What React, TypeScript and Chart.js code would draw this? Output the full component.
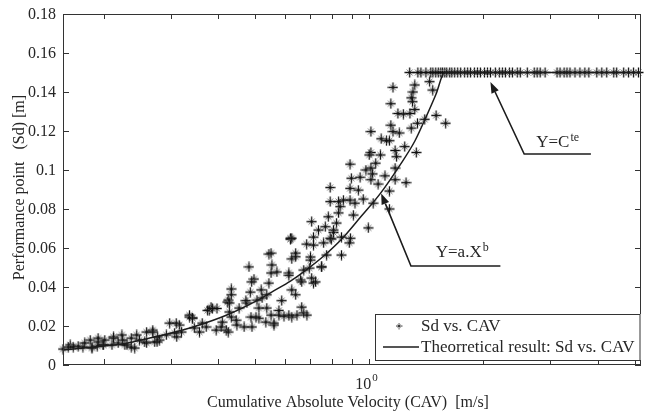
import React, { useEffect, useRef } from "react";
import { Chart, registerables } from "chart.js";

Chart.register(...registerables);

// ---------------- data ----------------
// Lower dense band of the scatter (CAV [m/s], Sd [m])
const lowerBand: [number, number][] = [
  [0.156, 0.0082], [0.163, 0.0103], [0.166, 0.0092], [0.171, 0.0097], [0.176, 0.0092],
  [0.184, 0.0128], [0.186, 0.0092], [0.192, 0.0097], [0.193, 0.0138], [0.199, 0.0103],
  [0.201, 0.0128], [0.210, 0.0103], [0.212, 0.0144], [0.218, 0.0113], [0.223, 0.0154],
  [0.227, 0.0103], [0.230, 0.0103], [0.236, 0.0138], [0.244, 0.0154], [0.248, 0.0128],
  [0.256, 0.0118], [0.259, 0.0169], [0.269, 0.0179], [0.272, 0.0118], [0.277, 0.0144],
  [0.280, 0.0128], [0.298, 0.0215], [0.307, 0.0164], [0.311, 0.0144], [0.316, 0.0205],
  [0.320, 0.0169], [0.336, 0.0246], [0.342, 0.0241], [0.346, 0.0190], [0.357, 0.0169],
  [0.363, 0.0215], [0.372, 0.0195], [0.379, 0.0282], [0.383, 0.0297], [0.395, 0.0179],
  [0.407, 0.0195], [0.410, 0.0220], [0.420, 0.0179], [0.423, 0.0323],
  [0.161, 0.0092], [0.178, 0.0113], [0.186, 0.0087], [0.193, 0.0118], [0.199, 0.0103],
  [0.212, 0.0138], [0.224, 0.0128], [0.236, 0.0092], [0.241, 0.0087], [0.259, 0.0113],
  [0.276, 0.0118], [0.269, 0.0169], [0.292, 0.0154], [0.310, 0.0215], [0.336, 0.0256],
  [0.342, 0.0241], [0.375, 0.0280], [0.386, 0.0290],
];

// Middle band around the theoretical curve
const middleBand: [number, number][] = [
  [0.620, 0.0645], [0.544, 0.0569], [0.482, 0.0503], [0.497, 0.0441], [0.486, 0.0374],
  [0.433, 0.0390], [0.425, 0.0333], [0.554, 0.0513], [0.571, 0.0477], [0.551, 0.0472],
  [0.544, 0.0420], [0.519, 0.0385], [0.625, 0.0544], [0.640, 0.0574], [0.684, 0.0620],
  [0.713, 0.0615], [0.758, 0.0626], [0.795, 0.0646], [0.805, 0.0680], [0.845, 0.0564],
  [0.886, 0.0626], [0.892, 0.0650], [0.749, 0.0503], [0.705, 0.0446], [0.713, 0.0420],
  [0.659, 0.0436], [0.625, 0.0385], [0.614, 0.0472], [0.672, 0.0487], [0.695, 0.0497],
  [0.700, 0.0538], [0.772, 0.0564], [0.522, 0.0344], [0.506, 0.0333], [0.454, 0.0292],
  [0.476, 0.0318], [0.397, 0.0290], [0.428, 0.0318], [0.433, 0.0360], [0.473, 0.0330],
  [0.490, 0.0426], [0.537, 0.0360], [0.578, 0.0280], [0.588, 0.0330], [0.614, 0.0460],
  [0.640, 0.0360], [0.664, 0.0426], [0.722, 0.0426], [0.749, 0.0503], [0.620, 0.0650],
  [0.551, 0.0574], [0.700, 0.0554], [0.640, 0.0555],
];

// Lower branch (points below the curve, 0.4 - 0.7 m/s)
const lowerBranch: [number, number][] = [
  [0.537, 0.0292], [0.512, 0.0292], [0.551, 0.0256], [0.578, 0.0256], [0.596, 0.0250],
  [0.625, 0.0246], [0.645, 0.0256], [0.672, 0.0267], [0.664, 0.0297], [0.512, 0.0240],
  [0.488, 0.0246], [0.534, 0.0220], [0.561, 0.0205], [0.491, 0.0195], [0.468, 0.0195],
  [0.448, 0.0205], [0.433, 0.0246], [0.428, 0.0272], [0.425, 0.0169], [0.561, 0.0215],
  [0.614, 0.0256], [0.685, 0.0256], [0.446, 0.0230], [0.503, 0.0246],
];

// Upper steep branch
const upperBranch: [number, number][] = [
  [1.155, 0.1424], [1.318, 0.1436], [1.304, 0.1400], [1.442, 0.1453], [1.470, 0.1410],
  [1.290, 0.1370], [1.300, 0.1350], [1.140, 0.1340], [1.318, 0.1310], [1.190, 0.1290],
  [1.230, 0.1287], [1.280, 0.1290], [1.500, 0.1280], [1.590, 0.1240], [1.400, 0.1260],
  [1.340, 0.1240], [1.140, 0.1230], [1.290, 0.1215], [1.010, 0.1197], [1.155, 0.1197],
  [1.200, 0.1190], [1.075, 0.1160], [1.110, 0.1150], [1.130, 0.1150], [1.240, 0.1120],
  [1.330, 0.1090], [1.010, 0.1090], [1.000, 0.1077], [1.070, 0.1077], [1.170, 0.1100],
  [1.180, 0.1068], [1.040, 0.1035], [0.890, 0.1030], [0.980, 0.1000], [1.010, 0.1010],
  [1.020, 0.0980], [1.170, 0.1010], [1.100, 0.0970], [0.897, 0.0958], [0.946, 0.0963],
  [1.010, 0.0950], [1.055, 0.0928], [1.170, 0.0950], [1.250, 0.0935], [0.789, 0.0910],
  [0.890, 0.0906], [0.936, 0.0897], [1.130, 0.0892], [0.789, 0.0838], [0.830, 0.0838],
  [0.855, 0.0846], [0.890, 0.0846], [0.917, 0.0830], [0.964, 0.0851], [0.838, 0.0812],
  [1.024, 0.0830], [1.130, 0.0800], [0.780, 0.0760], [0.830, 0.0780], [0.908, 0.0769],
  [0.705, 0.0735], [0.820, 0.0728], [0.766, 0.0709], [0.735, 0.0692], [0.805, 0.0692],
  [0.994, 0.0703], [0.625, 0.0650], [0.713, 0.0656], [0.789, 0.0650], [0.845, 0.0656],
];

// Plateau (Sd = 0.15 m)
const plateauSd = 0.15;
const plateauCav: number[] = [
  1.278, 1.343, 1.368, 1.410, 1.452, 1.471, 1.497, 1.520, 1.543, 1.560, 1.581, 1.600,
  1.629, 1.650, 1.679, 1.710, 1.741, 1.783, 1.816, 1.849, 1.893, 1.928, 1.963, 2.012,
  2.049, 2.086, 2.149, 2.202, 2.243, 2.284, 2.340, 2.383, 2.455, 2.500, 2.608, 2.721,
  2.770, 2.820, 2.906, 3.124, 3.182, 3.261, 3.319, 3.380, 3.483, 3.589, 3.698, 3.790,
  3.976, 4.099, 4.224, 4.406, 4.486, 4.680, 4.822, 4.969, 5.121,
];

// Theoretical result (Y = a.X^b, then constant)
const theoryCav: number[] = [0.156, 0.18, 0.2, 0.23, 0.26, 0.3, 0.35, 0.42, 0.5, 0.56, 0.62, 0.68, 0.76, 0.85, 0.95, 1.07, 1.2, 1.32, 1.41, 1.5, 1.58, 5.2];
const theorySd: number[] = [0.0077, 0.0088, 0.0097, 0.0112, 0.0135, 0.0163, 0.0200, 0.0255, 0.0325, 0.0380, 0.0430, 0.0485, 0.0560, 0.0650, 0.0760, 0.0880, 0.1020, 0.1150, 0.1270, 0.1390, 0.1500, 0.1500];

// Axes
const xMin = 0.156;
const xMax = 5.2;
const yMin = 0;
const yMax = 0.18;
const yTickValues = [0, 0.02, 0.04, 0.06, 0.08, 0.1, 0.12, 0.14, 0.16, 0.18];
const yTickLabels = ["0", "0.02", "0.04", "0.06", "0.08", "0.1", "0.12", "0.14", "0.16", "0.18"];
const xMajorTicks = [1];
const xMajorBase = "10";
const xMajorExp = "0";
const xMinorTicks = [0.2, 0.3, 0.4, 0.5, 0.6, 0.7, 0.8, 0.9, 2, 3, 4, 5];

const xTitle = "Cumulative Absolute Velocity (CAV)  [m/s]";
const yTitle = "Performance point   (Sd) [m]";
const seriesLabels = ["Sd vs. CAV", "Theorretical result: Sd vs. CAV"];

// Annotations: arrow tip, elbow, end of underline (data coords), text
const annotations = [
  { tip: [1.075, 0.088], elbow: [1.288, 0.0508], end: [2.216, 0.0508], textAt: [1.497, 0.0554], base: "Y=a.X", sup: "b" },
  { tip: [2.086, 0.1451], elbow: [2.56, 0.1082], end: [3.837, 0.1082], textAt: [2.754, 0.1118], base: "Y=C", sup: "te" },
];

const FONT = "'Liberation Serif', 'Times New Roman', serif";
const TXT = "#262626";
const LINE = "#1c1c1c";

function makeMarker(): HTMLCanvasElement {
  const c = document.createElement("canvas");
  c.width = 11;
  c.height = 11;
  const g = c.getContext("2d")!;
  g.strokeStyle = "#7a7a7a";
  g.lineWidth = 1;
  g.beginPath();
  g.moveTo(2.5, 2.5); g.lineTo(8.5, 8.5);
  g.moveTo(8.5, 2.5); g.lineTo(2.5, 8.5);
  g.stroke();
  g.strokeStyle = "#111";
  g.lineWidth = 1.3;
  g.beginPath();
  g.moveTo(5.5, 0.5); g.lineTo(5.5, 10.5);
  g.moveTo(0.5, 5.5); g.lineTo(10.5, 5.5);
  g.stroke();
  return c;
}

function drawSup(ctx: CanvasRenderingContext2D, base: string, sup: string, x: number, y: number, size: number, supSize: number, rise: number) {
  ctx.font = `${size}px ${FONT}`;
  ctx.textAlign = "left";
  ctx.textBaseline = "alphabetic";
  ctx.fillText(base, x, y);
  const w = ctx.measureText(base).width;
  ctx.font = `${supSize}px ${FONT}`;
  ctx.fillText(sup, x + w + 1, y - rise);
}

export default function App() {
  const ref = useRef<HTMLCanvasElement | null>(null);

  useEffect(() => {
    if (!ref.current) return;
    const marker = makeMarker();

    const scatterPts = [...lowerBand, ...middleBand, ...lowerBranch, ...upperBranch]
      .map(([x, y]) => ({ x, y }))
      .concat(plateauCav.map((x) => ({ x, y: plateauSd })));
    const theoryPts = theoryCav.map((x, i) => ({ x, y: theorySd[i] }));

    const overlay = {
      id: "overlay",
      afterDatasetsDraw(chart: any) {
        const { ctx, chartArea } = chart;
        const { left, right, top, bottom } = chartArea;
        const xs = chart.scales.x;
        const ys = chart.scales.y;
        ctx.save();
        ctx.strokeStyle = "#333";
        ctx.lineWidth = 1;
        // frame
        ctx.strokeRect(left + 0.5, top + 0.5, right - left - 1, bottom - top - 1);
        // inward ticks
        ctx.beginPath();
        [...xMinorTicks, ...xMajorTicks].forEach((v) => {
          const px = Math.round(xs.getPixelForValue(v)) + 0.5;
          ctx.moveTo(px, bottom); ctx.lineTo(px, bottom - 6);
          ctx.moveTo(px, top); ctx.lineTo(px, top + 5);
        });
        yTickValues.forEach((v) => {
          const py = Math.round(ys.getPixelForValue(v)) + 0.5;
          ctx.moveTo(left, py); ctx.lineTo(left + 6, py);
          ctx.moveTo(right, py); ctx.lineTo(right - 6, py);
        });
        ctx.stroke();

        // y tick labels
        ctx.fillStyle = TXT;
        ctx.font = `16px ${FONT}`;
        ctx.textAlign = "right";
        ctx.textBaseline = "middle";
        yTickValues.forEach((v, i) => {
          ctx.fillText(yTickLabels[i], left - 7, ys.getPixelForValue(v) + 1);
        });
        // x major label 10^0
        xMajorTicks.forEach((v) => {
          const px = xs.getPixelForValue(v);
          ctx.font = `16px ${FONT}`;
          const w = ctx.measureText(xMajorBase).width;
          drawSup(ctx, xMajorBase, xMajorExp, px - w + 2, bottom + 24, 16, 11, 8);
        });
        // axis titles
        ctx.font = `16px ${FONT}`;
        ctx.textAlign = "center";
        ctx.textBaseline = "alphabetic";
        ctx.fillText(xTitle, (left + right) / 2 - 4, bottom + 42);
        ctx.save();
        ctx.translate(24, (top + bottom) / 2 - 2);
        ctx.rotate(-Math.PI / 2);
        ctx.fillText(yTitle, 0, 0);
        ctx.restore();

        // annotations
        annotations.forEach((a) => {
          const tx = xs.getPixelForValue(a.tip[0]);
          const ty = ys.getPixelForValue(a.tip[1]);
          const ex = xs.getPixelForValue(a.elbow[0]);
          const ey = ys.getPixelForValue(a.elbow[1]);
          const nx = xs.getPixelForValue(a.end[0]);
          ctx.strokeStyle = LINE;
          ctx.lineWidth = 1.6;
          const ang = Math.atan2(ty - ey, tx - ex);
          const hl = 11;
          const hw = 4;
          const bx = tx - hl * Math.cos(ang);
          const by = ty - hl * Math.sin(ang);
          ctx.beginPath();
          ctx.moveTo(nx, ey);
          ctx.lineTo(ex, ey);
          ctx.lineTo(bx, by);
          ctx.stroke();
          ctx.fillStyle = LINE;
          ctx.beginPath();
          ctx.moveTo(tx, ty);
          ctx.lineTo(bx + hw * Math.sin(ang), by - hw * Math.cos(ang));
          ctx.lineTo(bx - hw * Math.sin(ang), by + hw * Math.cos(ang));
          ctx.closePath();
          ctx.fill();
          ctx.fillStyle = TXT;
          drawSup(ctx, a.base, a.sup, xs.getPixelForValue(a.textAt[0]), ys.getPixelForValue(a.textAt[1]), 17, 12, 6);
        });

        // legend
        const lx = right - 266;
        const ly = bottom - 51;
        ctx.fillStyle = "#fff";
        ctx.fillRect(lx, ly, right - lx, 46);
        ctx.strokeStyle = "#333";
        ctx.lineWidth = 1;
        ctx.strokeRect(lx + 0.5, ly + 0.5, right - lx - 1.5, 46);
        const r1 = ly + 12;
        const r2 = ly + 33;
        ctx.drawImage(marker, lx + 24 - 3.5, r1 - 3.5, 7, 7);
        ctx.strokeStyle = LINE;
        ctx.lineWidth = 1.5;
        ctx.beginPath();
        ctx.moveTo(lx + 8, r2);
        ctx.lineTo(lx + 44, r2);
        ctx.stroke();
        ctx.fillStyle = TXT;
        ctx.font = `17px ${FONT}`;
        ctx.textAlign = "left";
        ctx.textBaseline = "middle";
        ctx.fillText(seriesLabels[0], lx + 46, r1 + 1);
        ctx.fillText(seriesLabels[1], lx + 46, r2 + 1);
        ctx.restore();
      },
    };

    const chart = new Chart(ref.current, {
      type: "scatter",
      data: {
        datasets: [
          {
            type: "line",
            label: seriesLabels[1],
            data: theoryPts,
            borderColor: LINE,
            borderWidth: 1.5,
            pointRadius: 0,
            showLine: true,
            fill: false,
            cubicInterpolationMode: "monotone",
            order: 0,
          } as any,
          {
            type: "scatter",
            label: seriesLabels[0],
            data: scatterPts,
            pointStyle: marker,
            pointRadius: 5,
            order: 1,
            clip: 8,
          } as any,
        ],
      },
      options: {
        animation: false,
        responsive: false,
        maintainAspectRatio: false,
        layout: { padding: { top: 14, right: 2, left: 0, bottom: 0 } },
        plugins: { legend: { display: false }, tooltip: { enabled: false } },
        scales: {
          x: {
            type: "logarithmic",
            min: xMin,
            max: xMax,
            ticks: { display: false },
            grid: { display: false },
            border: { display: false },
            afterFit: (s: any) => { s.height = 51; },
          },
          y: {
            type: "linear",
            min: yMin,
            max: yMax,
            ticks: { display: false },
            grid: { display: false },
            border: { display: false },
            afterFit: (s: any) => { s.width = 63; },
          },
        },
      },
      plugins: [overlay],
    } as any);

    return () => chart.destroy();
  }, []);

  return (
    <div style={{ position: "fixed", left: 0, top: 0, width: 647, height: 416, background: "#fff" }}>
      <canvas ref={ref} width={647} height={416} style={{ display: "block" }} />
    </div>
  );
}
